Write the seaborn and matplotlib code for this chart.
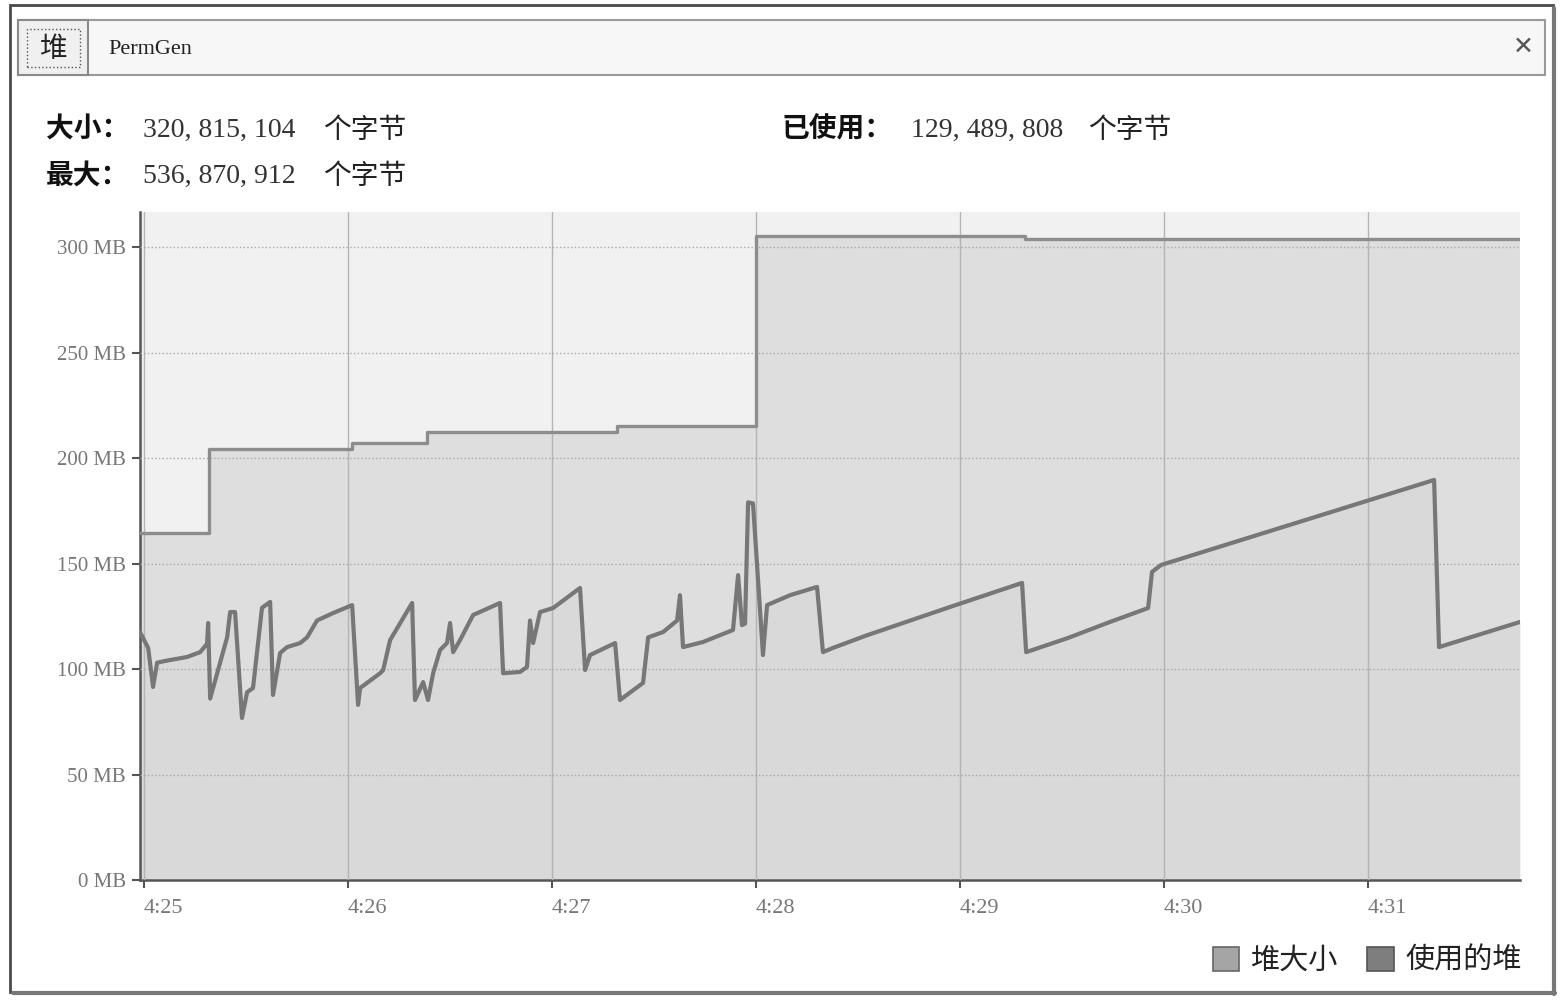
import numpy as np
import pandas as pd
import matplotlib
matplotlib.use("Agg")
import matplotlib.pyplot as plt
import seaborn as sns
from matplotlib.patches import Rectangle, Patch
from matplotlib.lines import Line2D

# time in minutes after 4:25, memory in MB
heap_t = [-0.02, 0.319, 1.02, 1.387, 2.319, 3.0, 4.32, 6.745]
heap_mb = [164.5, 204.3, 207.0, 212.3, 215.2, 305.2, 303.8, 303.8]

used_t = [-0.020, 0.020, 0.044, 0.064, 0.113, 0.211, 0.275, 0.309, 0.314, 0.324,
          0.407, 0.422, 0.446, 0.480, 0.505, 0.534, 0.578, 0.618, 0.632, 0.667,
          0.701, 0.765, 0.799, 0.848, 0.926, 1.020, 1.049, 1.059, 1.157, 1.172,
          1.206, 1.314, 1.328, 1.368, 1.392, 1.417, 1.451, 1.485, 1.500, 1.515,
          1.549, 1.613, 1.745, 1.760, 1.843, 1.877, 1.892, 1.907, 1.941, 2.005,
          2.137, 2.162, 2.186, 2.309, 2.333, 2.446, 2.471, 2.544, 2.613, 2.627,
          2.642, 2.740, 2.887, 2.912, 2.931, 2.946, 2.961, 2.985, 3.034, 3.054,
          3.167, 3.299, 3.328, 3.377, 3.544, 3.951, 4.304, 4.324, 4.529, 4.735,
          4.922, 4.941, 4.985, 6.324, 6.348, 6.745]
used_mb = [117.5, 110.0, 91.5, 103.0, 104.0, 105.7, 108.0, 112.0, 121.8, 86.0,
           115.0, 127.0, 127.0, 76.8, 89.0, 91.0, 129.0, 131.8, 87.7, 107.6,
           110.4, 112.3, 115.0, 123.0, 126.5, 130.3, 83.0, 91.0, 98.0, 99.5,
           113.7, 131.3, 85.3, 93.8, 85.3, 98.0, 109.0, 112.3, 121.8, 108.0,
           113.7, 125.6, 131.3, 98.0, 98.6, 101.0, 123.0, 112.3, 127.0, 128.9,
           138.4, 99.5, 106.6, 112.3, 85.3, 93.4, 115.0, 117.5, 123.0, 135.0,
           110.4, 112.8, 118.5, 144.5, 120.8, 121.5, 179.0, 178.5, 106.6, 130.3,
           135.0, 138.9, 108.0, 110.0, 116.0, 129.4, 140.8, 108.0, 114.7, 122.3,
           128.9, 146.0, 149.3, 189.6, 110.4, 122.3]

x_ticks = [0, 1, 2, 3, 4, 5, 6]
x_labels = ["4:25", "4:26", "4:27", "4:28", "4:29", "4:30", "4:31"]
y_ticks = [0, 50, 100, 150, 200, 250, 300]
y_labels = ["0 MB", "50 MB", "100 MB", "150 MB", "200 MB", "250 MB", "300 MB"]

size_label, size_value = "大小：", "320, 815, 104"
max_label, max_value = "最大：", "536, 870, 912"
used_label, used_value = "已使用：", "129, 489, 808"
unit = "个字节"
legend_labels = ["堆大小", "使用的堆"]

sns.set_theme(style="white")
plt.rcParams["font.family"] = ["Noto Sans CJK SC", "DejaVu Sans"]

W, H = 1563, 1000
fig = plt.figure(figsize=(W / 100, H / 100), dpi=100)


def fx(px):
    return px / W


def fy(py):
    return 1 - py / H


# window frame
fig.patches.append(Rectangle((fx(10), fy(992)), fx(1543), 987 / H, transform=fig.transFigure,
                             facecolor="white", edgecolor="#4a4a4a", lw=2, zorder=-2))
fig.add_artist(Line2D([fx(1554), fx(1554)], [fy(8), fy(994)], color="#777777", lw=3))
fig.add_artist(Line2D([fx(13), fx(1555)], [fy(993), fy(993)], color="#777777", lw=3))
# tab bar
fig.patches.append(Rectangle((fx(18), fy(75)), fx(1527), 55 / H, transform=fig.transFigure,
                             facecolor="#f7f7f7", edgecolor="#9a9a9a", lw=1.5, zorder=1))
fig.patches.append(Rectangle((fx(18), fy(75)), fx(70), 55 / H, transform=fig.transFigure,
                             facecolor="#f0f0f0", edgecolor="#8a8a8a", lw=1.5, zorder=2))
fig.patches.append(Rectangle((fx(27), fy(67)), fx(53), 38 / H, transform=fig.transFigure,
                             facecolor="none", edgecolor="#555555", lw=1, ls=":", zorder=3))
fig.text(fx(53), fy(49), "堆", fontsize=20, ha="center", va="center", color="#222222")
fig.text(fx(108), fy(49), "PermGen", fontsize=16, ha="left", va="center",
         family=["Liberation Serif", "DejaVu Serif"], color="#222222")
fig.text(fx(1523), fy(47), "✕", fontsize=18, ha="center", va="center",
         family=["DejaVu Sans"], color="#555555", fontweight="bold")

# info texts
num_font = ["Liberation Serif", "DejaVu Serif"]
for lab, val, lx, vx, ux, yy in [(size_label, size_value, 46, 143, 323, 130),
                                  (max_label, max_value, 46, 143, 323, 176),
                                  (used_label, used_value, 781, 911, 1088, 130)]:
    fig.text(fx(lx), fy(yy), lab, fontsize=20, fontweight="bold", ha="left", va="center",
             color="#111111")
    fig.text(fx(vx), fy(yy), val, fontsize=20, ha="left", va="center", family=num_font,
             color="#333333")
    fig.text(fx(ux), fy(yy), unit, fontsize=20, ha="left", va="center", color="#222222")

# chart
ax = fig.add_axes([fx(140), fy(880), fx(1380), 668 / H])
ax.set_zorder(5)
ax.set_facecolor("#f1f1f1")

ax.fill_between(heap_t, heap_mb, 0, step="post", color="#dedede", lw=0, zorder=1)
ax.fill_between(used_t, used_mb, 0, color="#d7d7d7", lw=0, alpha=0.6, zorder=1)
sns.lineplot(x=heap_t, y=heap_mb, ax=ax, drawstyle="steps-post", color="#8d8d8d",
             lw=2.4, errorbar=None, zorder=3)
sns.lineplot(x=used_t, y=used_mb, ax=ax, color="#777777", lw=3, errorbar=None, zorder=4)

ax.set_xlim(-0.02, 6.745)
ax.set_ylim(0, 316.6)
ax.set_xticks(x_ticks)
ax.set_xticklabels(x_labels, ha="left", family=num_font, fontsize=16, color="#777777")
ax.set_yticks(y_ticks)
ax.set_yticklabels(y_labels, family=num_font, fontsize=15, color="#777777")
ax.tick_params(axis="both", which="major", direction="out", length=6, width=1.5,
               color="#555555", bottom=True, left=True, pad=4)
ax.tick_params(axis="x", pad=8)
ax.grid(axis="x", color="#b4b4b4", lw=1, ls="-", zorder=2)
ax.grid(axis="y", color="#a8a8a8", lw=1, ls=":", zorder=2)
ax.set_axisbelow(False)
for s in ["top", "right"]:
    ax.spines[s].set_visible(False)
for s in ["left", "bottom"]:
    ax.spines[s].set_color("#555555")
    ax.spines[s].set_linewidth(1.8)
ax.set_xlabel("")
ax.set_ylabel("")

handles = [Patch(facecolor="#a5a5a5", edgecolor="#666666", lw=1.2),
           Patch(facecolor="#7e7e7e", edgecolor="#555555", lw=1.2)]
fig.legend(handles, legend_labels, loc="lower right", bbox_to_anchor=(fx(1548), fy(1002)),
           ncol=2, frameon=False, fontsize=21, handlelength=0.9, handleheight=0.9,
           handletextpad=0.4, columnspacing=1.0, labelcolor="#222222")

fig.savefig("out.png", dpi=100)
